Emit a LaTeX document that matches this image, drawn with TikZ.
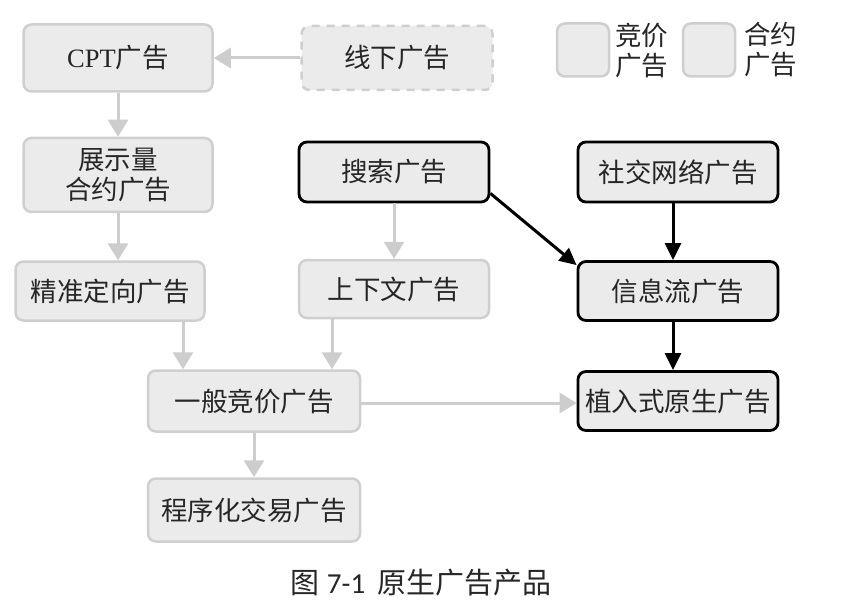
\documentclass[tikz,border=0pt]{standalone}
\usepackage{fontspec}
\setmainfont{Liberation Serif}
\newfontfamily\cjk{Noto Sans CJK SC}
\newfontfamily\capfont{Carlito}
\usetikzlibrary{arrows.meta}
\definecolor{boxfill}{HTML}{EBEBEB}
\definecolor{boxline}{HTML}{CFCFCF}
\definecolor{arrgray}{HTML}{CDCDCD}
\definecolor{txt}{HTML}{262626}
\tikzset{
  base/.style={rounded corners=8pt, fill=boxfill, line width=2.5pt, align=center,
    inner sep=1pt, text=txt, font=\fontsize{26.5}{30}\selectfont\cjk},
  graybox/.style={base, draw=boxline},
  blackbox/.style={base, draw=black, line width=2.8pt},
  dashbox/.style={base, draw=boxline, dash pattern=on 8pt off 7pt},
  legtext/.style={anchor=west, align=left, inner sep=0pt, text=txt, font=\fontsize{26.5}{30}\selectfont\cjk},
  garrow/.style={draw=arrgray, line width=3pt, -{Triangle[width=20pt,length=17pt]}},
  barrow/.style={draw=black, line width=3pt, -{Triangle[width=16pt,length=17pt]}},
}
\begin{document}
\begin{tikzpicture}[x=1pt,y=-1pt]
\useasboundingbox (0,0) rectangle (842,612);
% nodes
\node[graybox, minimum width=189pt, minimum height=67pt] (cpt) at (118,58) {{\rmfamily CPT}广告};
\node[dashbox, minimum width=191pt, minimum height=64pt] (xx) at (397,58) {线下广告};
\node[graybox, minimum width=189pt, minimum height=74pt] (zs) at (118,175) {展示量\\合约广告};
\node[graybox, minimum width=189pt, minimum height=59pt] (jz) at (110,291) {精准定向广告};
\node[blackbox, minimum width=190pt, minimum height=60pt] (ss) at (394,172) {搜索广告};
\node[blackbox, minimum width=200pt, minimum height=60pt] (sj) at (678,172) {社交网络广告};
\node[graybox, minimum width=190pt, minimum height=58pt] (sx) at (394,289) {上下文广告};
\node[blackbox, minimum width=200pt, minimum height=59pt] (xl) at (678,291) {信息流广告};
\node[blackbox, minimum width=200pt, minimum height=59pt] (zr) at (678,401) {植入式原生广告};
\node[graybox, minimum width=212pt, minimum height=61pt] (yb) at (254,401) {一般竞价广告};
\node[graybox, minimum width=212pt, minimum height=63pt] (cx) at (254,510) {程序化交易广告};
% legend
\node[graybox, minimum width=52pt, minimum height=53pt] (lg1) at (583,50) {};
\node[legtext] (lt1) at (615,50) {竞价\\广告};
\node[graybox, minimum width=52pt, minimum height=53pt] (lg2) at (709,50) {};
\node[legtext] (lt2) at (744,50) {合约\\广告};
% caption
\node[text=txt, font=\fontsize{29}{32}\selectfont] (cap) at (421,583) {{\cjk 图} {\capfont 7-1}\ \,{\cjk 原生广告产品}};
% gray arrows
\draw[garrow] (xx.west) -- (cpt.east);
\draw[garrow] (cpt.south) -- (zs.north);
\draw[garrow] (zs.south) -- (zs.south |- jz.north);
\draw[garrow] ([xshift=73pt]jz.south) -- ([xshift=-71pt]yb.north);
\draw[garrow] ([xshift=-62pt]sx.south) -- ([xshift=78pt]yb.north);
\draw[garrow] (ss.south) -- (sx.north);
\draw[garrow] ([yshift=-2pt]yb.east) -- ([yshift=-2pt]zr.west);
\draw[garrow] (yb.south) -- (cx.north);
% black arrows
\draw[barrow] ([yshift=10pt]ss.south east) -- ([yshift=-5pt]xl.north west);
\draw[barrow] ([xshift=-5pt]sj.south) -- ([xshift=-5pt]xl.north);
\draw[barrow] ([xshift=-5pt]xl.south) -- ([xshift=-5pt]zr.north);
\end{tikzpicture}
\end{document}
